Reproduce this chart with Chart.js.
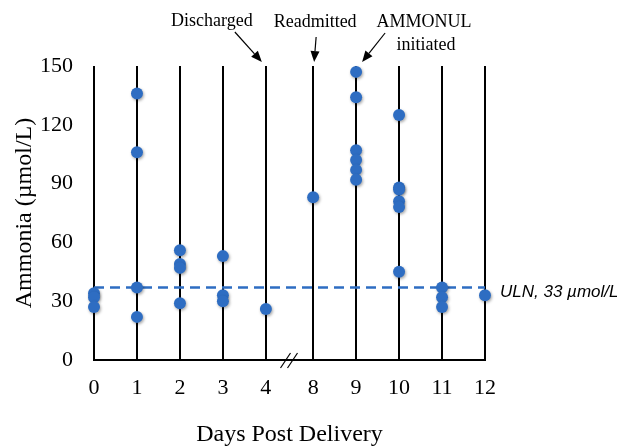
<!DOCTYPE html>
<html>
<head>
<meta charset="utf-8">
<script src="https://cdn.jsdelivr.net/npm/chart.js@4/dist/chart.umd.min.js"></script>
<style>
  html, body { margin: 0; padding: 0; background: #fff; }
  #wrap { width: 617px; height: 447px; position: relative; }
</style>
</head>
<body>
<div id="wrap"><canvas id="c" width="617" height="447"></canvas></div>
<script>
// ---- Data ----
const dayLabels = ['0', '1', '2', '3', '4', '8', '9', '10', '11', '12'];
const ammoniaDay0 = [34, 32, 27];
const ammoniaDay1 = [136, 106, 37, 22];
const ammoniaDay2 = [56, 49, 47, 29];
const ammoniaDay3 = [53, 33, 30];
const ammoniaDay4 = [26];
const ammoniaDay8 = [83];
const ammoniaDay9 = [147, 134, 107, 102, 97, 92];
const ammoniaDay10 = [125, 88, 87, 81, 78, 45];
const ammoniaDay11 = [37, 32, 27];
const ammoniaDay12 = [33];
const ulnLineValue = [37];
const yTicks = [0, 30, 60, 90, 120, 150];

const ammoniaByDay = [ammoniaDay0, ammoniaDay1, ammoniaDay2, ammoniaDay3, ammoniaDay4,
  ammoniaDay8, ammoniaDay9, ammoniaDay10, ammoniaDay11, ammoniaDay12];

// axis break between day 4 and day 8 adds a small extra gap
const axisPos = dayLabels.map((d, i) => (i < 5 ? i : i + 0.1));
const xMax = axisPos[axisPos.length - 1];

const points = [];
ammoniaByDay.forEach((vals, i) => vals.forEach(v => points.push({ x: axisPos[i], y: v })));

const BLUE = '#2E6DC2';
const serif = '"Liberation Serif", "Times New Roman", serif';

const decorPlugin = {
  id: 'decor',
  beforeDatasetDraw(chart, args) {
    if (args.index === 1) {
      const ctx = chart.ctx;
      ctx.save();
      ctx.shadowColor = 'rgba(0,0,0,0.35)';
      ctx.shadowBlur = 3;
      ctx.shadowOffsetX = 1;
      ctx.shadowOffsetY = 1.5;
    }
  },
  afterDatasetDraw(chart, args) {
    if (args.index === 1) chart.ctx.restore();
  },
  afterDraw(chart) {
    const ctx = chart.ctx;
    const xs = chart.scales.x, ys = chart.scales.y;
    const top = chart.chartArea.top, bottom = chart.chartArea.bottom;
    const px = i => xs.getPixelForValue(axisPos[i]);

    ctx.save();
    // ULN label
    ctx.fillStyle = '#000';
    ctx.font = 'italic 17px "Liberation Sans", Arial, sans-serif';
    ctx.textAlign = 'left';
    ctx.textBaseline = 'middle';
    ctx.fillText('ULN, 33 \u00B5mol/L', chart.chartArea.right + 15, ys.getPixelForValue(ulnLineValue[0]) + 5);

    // axis break marks
    const bx = (px(4) + px(5)) / 2;
    ctx.strokeStyle = '#000';
    ctx.lineWidth = 1.2;
    [-4, 3].forEach(off => {
      ctx.beginPath();
      ctx.moveTo(bx + off - 5, bottom + 8);
      ctx.lineTo(bx + off + 5, bottom - 7);
      ctx.stroke();
    });

    // annotations
    ctx.font = '18px ' + serif;
    ctx.textAlign = 'center';
    ctx.fillText('Discharged', px(4) - 54, 21);
    ctx.fillText('Readmitted', px(5) + 2, 22);
    ctx.fillText('AMMONUL', px(6) + 68, 22);
    ctx.fillText('initiated', px(6) + 70, 45);

    function arrow(x1, y1, x2, y2) {
      const ang = Math.atan2(y2 - y1, x2 - x1);
      const hl = 11, hw = 4.5;
      const bxp = x2 - hl * Math.cos(ang), byp = y2 - hl * Math.sin(ang);
      ctx.beginPath();
      ctx.moveTo(x1, y1);
      ctx.lineTo(bxp, byp);
      ctx.lineWidth = 1.2;
      ctx.stroke();
      ctx.beginPath();
      ctx.moveTo(x2, y2);
      ctx.lineTo(bxp + hw * Math.sin(ang), byp - hw * Math.cos(ang));
      ctx.lineTo(bxp - hw * Math.sin(ang), byp + hw * Math.cos(ang));
      ctx.closePath();
      ctx.fill();
    }
    arrow(px(4) - 31, 32, px(4) - 4, top - 4);
    arrow(px(5) + 3, 37, px(5) + 1, top - 4);
    arrow(px(6) + 29, 33, px(6) + 6, top - 4);
    ctx.restore();
  }
};

new Chart(document.getElementById('c'), {
  type: 'scatter',
  data: {
    datasets: [
      {
        type: 'line',
        data: [{ x: 0, y: ulnLineValue[0] }, { x: xMax, y: ulnLineValue[0] }],
        borderColor: BLUE,
        borderWidth: 2.5,
        borderDash: [10, 6],
        pointRadius: 0,
        fill: false,
        order: 2
      },
      {
        data: points,
        backgroundColor: BLUE,
        borderColor: BLUE,
        borderWidth: 0,
        pointRadius: 6,
        pointHoverRadius: 6,
        clip: false,
        order: 1
      }
    ]
  },
  options: {
    responsive: false,
    animation: false,
    events: [],
    layout: { padding: { top: 66, right: 132, left: 0, bottom: 0 } },
    plugins: { legend: { display: false }, tooltip: { enabled: false } },
    scales: {
      x: {
        type: 'linear',
        min: 0,
        max: xMax,
        afterBuildTicks(scale) { scale.ticks = axisPos.map(v => ({ value: v })); },
        afterFit(scale) { scale.height = 87; },
        ticks: {
          autoSkip: false,
          maxRotation: 0,
          padding: 15,
          color: '#000',
          font: { family: serif, size: 22 },
          callback: (v, i) => dayLabels[i]
        },
        grid: { color: '#000', lineWidth: 2, drawTicks: false },
        border: { display: true, color: '#000', width: 2 },
        title: {
          display: true,
          text: 'Days Post Delivery',
          color: '#000',
          font: { family: serif, size: 24, lineHeight: 1.0 },
          padding: { top: 0, bottom: 0 }
        }
      },
      y: {
        min: 0,
        max: 150,
        afterBuildTicks(scale) { scale.ticks = yTicks.map(v => ({ value: v })); },
        afterFit(scale) { scale.width = 94; },
        ticks: {
          padding: 21,
          color: '#000',
          font: { family: serif, size: 22 }
        },
        grid: { display: false, drawTicks: false },
        border: { display: false },
        title: {
          display: true,
          text: 'Ammonia (\u00B5mol/L)',
          color: '#000',
          font: { family: serif, size: 24 },
          padding: { top: 10, bottom: 0 }
        }
      }
    }
  },
  plugins: [decorPlugin]
});
</script>
</body>
</html>
